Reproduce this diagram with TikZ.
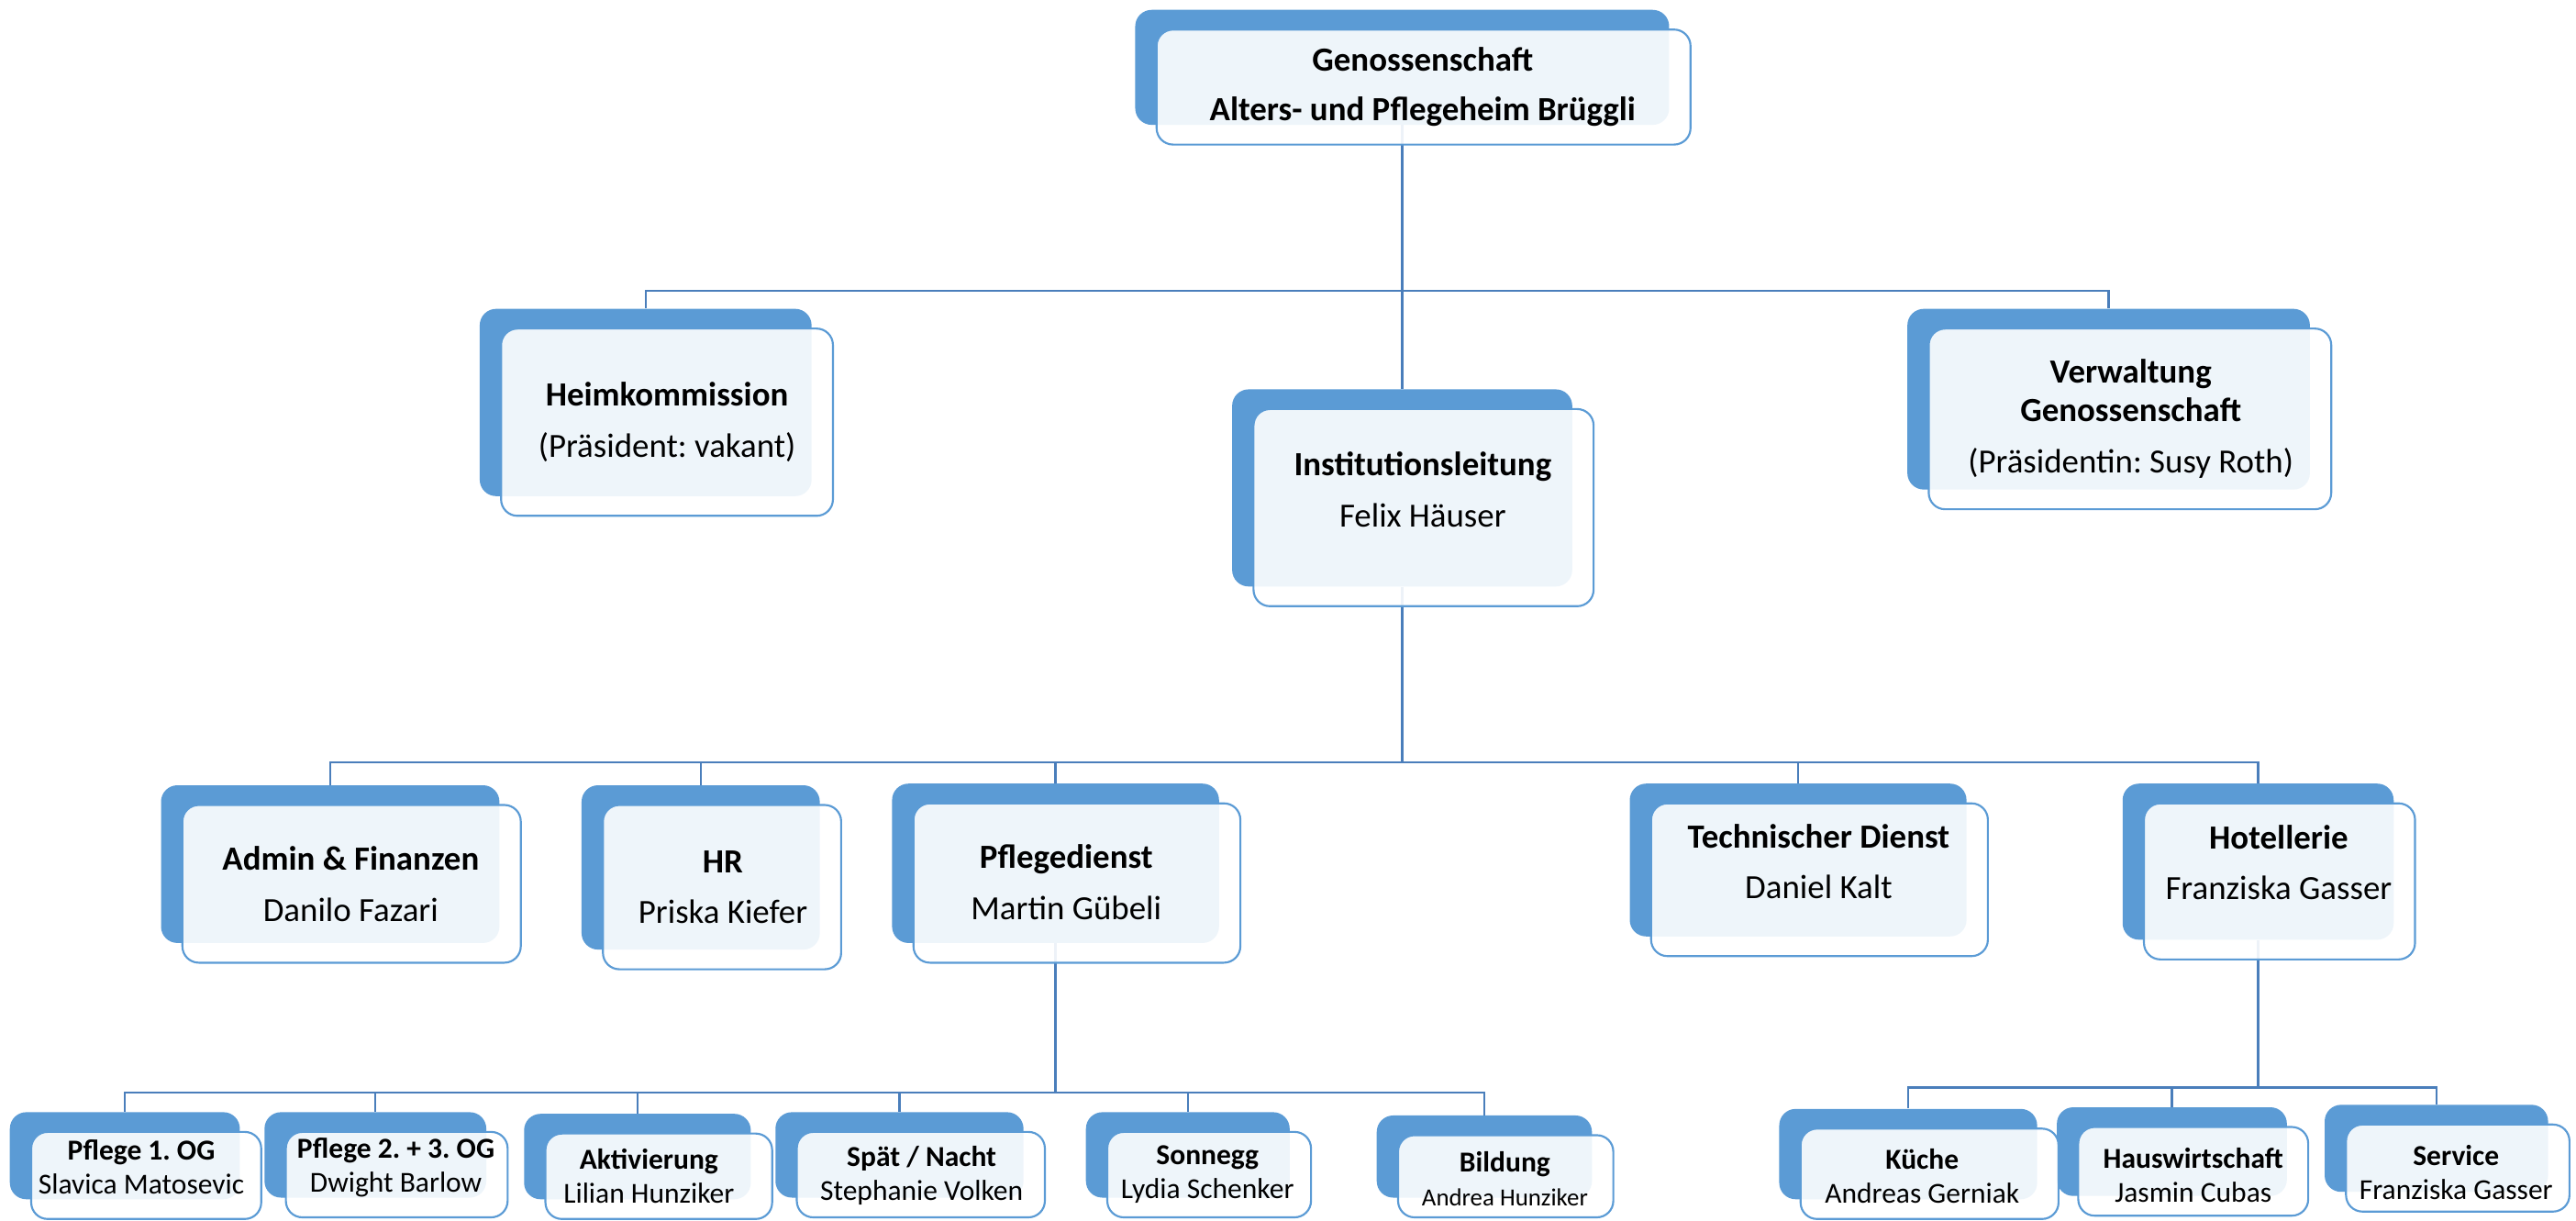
\documentclass[tikz,border=0pt]{standalone}
\usepackage{fontspec}
\setmainfont{Carlito}
\frenchspacing
\definecolor{boxblue}{RGB}{91,155,213}
\definecolor{linkblue}{RGB}{74,126,187}
% name/x/y/width/height of the blue boxes
\newcommand{\orgboxes}{gen/853.5/41/325/70, heim/393/245/202/114, verw/1283.5/243/245/110,
  inst/853.5/297/207/120, admin/201/526/206/96, hr/426.5/528/145/100, pfl/642.5/525.5/199/97,
  tech/1094.5/523.5/205/93, hot/1374.5/524.5/165/95, p1/76/703.5/140/53, p2/228.5/703/135/52,
  akt/388/704/138/52, spn/547.5/703/151/52, son/723/703/124/52, bil/903.5/704/131/50,
  kue/1161.5/702.5/157/55, hw/1322/701/140/54, ser/1483/699/136/53}

\begin{document}
\begin{tikzpicture}[x=1pt,y=-1pt,
  backbox/.style={fill=boxblue,rounded corners=10pt,inner sep=0pt},
  frontbox/.style={draw=boxblue,line width=1.2pt,fill=white,fill opacity=0.9,rounded corners=10pt,inner sep=0pt},
  link/.style={draw=linkblue,line width=1.4pt},
  txt/.style={align=center,inner sep=0pt,font=\fontsize{20.6}{23.5}\selectfont},
  smalltxt/.style={align=center,inner sep=0pt,font=\fontsize{17.6}{20.8}\selectfont}]
  \useasboundingbox (0,0) rectangle (1568,743);
  \clip (0,0) rectangle (1568,743);

  % back boxes
  \foreach \n/\x/\y/\w/\h in \orgboxes
    \node[backbox,minimum width=\w pt,minimum height=\h pt] (\n) at (\x,\y) {};

  % connectors
  \coordinate (bus1) at (853.5,177);
  \draw[link] (gen.south) -- (bus1);
  \draw[link] (bus1) -| (heim.north);
  \draw[link] (bus1) -| (verw.north);
  \draw[link] (bus1) -- (inst.north);
  \coordinate (bus2) at (853.5,464);
  \draw[link] (inst.south) -- (bus2);
  \foreach \n in {admin,hr,pfl,tech,hot}
    \draw[link] (bus2) -| (\n.north);
  \coordinate (bus3) at (642.5,665);
  \draw[link] (pfl.south) -- (bus3);
  \foreach \n in {p1,p2,akt,spn,son,bil}
    \draw[link] (bus3) -| (\n.north);
  \coordinate (bus4) at (1374.5,662);
  \draw[link] (hot.south) -- (bus4);
  \foreach \n in {kue,hw,ser}
    \draw[link] (bus4) -| (\n.north);

  % front boxes
  \foreach \n/\x/\y/\w/\h in \orgboxes
    \node[frontbox,minimum width=\w pt,minimum height=\h pt] (\n-f) at ([shift={(13,12)}]\n.center) {};

  % texts
  \node[txt] (gen-t) at (866,53) {\textbf{Genossenschaft}\\[6.5pt]\textbf{Alters- und Pflegeheim Brüggli}};
  \node[txt] (heim-t) at (406,257) {\textbf{Heimkommission}\\[7.5pt](Präsident: vakant)};
  \node[txt] (verw-t) at (1297,255) {\textbf{Verwaltung}\\\textbf{Genossenschaft}\\[7.5pt](Präsidentin: Susy Roth)};
  \node[txt] (inst-t) at (866,298) {\textbf{Institutionsleitung}\\[7.5pt]Felix Häuser};
  \node[txt] (admin-t) at (213.5,538) {\textbf{Admin \& Finanzen}\\[7.5pt]Danilo Fazari};
  \node[txt] (hr-t) at (440,540) {\textbf{HR}\\[7.5pt]Priska Kiefer};
  \node[txt] (pfl-t) at (649,537) {\textbf{Pflegedienst}\\[7.5pt]Martin Gübeli};
  \node[txt] (tech-t) at (1107,524.5) {\textbf{Technischer Dienst}\\[7.5pt]Daniel Kalt};
  \node[txt] (hot-t) at (1387,525) {\textbf{Hotellerie}\\[7.5pt]Franziska Gasser};
  \node[smalltxt] (p1-t) at (86,710.5) {\textbf{Pflege 1. OG}\\Slavica Matosevic};
  \node[smalltxt] (p2-t) at (241,710.5) {\textbf{Pflege 2. + 3. OG}\\Dwight Barlow};
  \node[smalltxt] (akt-t) at (395,716) {\textbf{Aktivierung}\\Lilian Hunziker};
  \node[smalltxt] (spn-t) at (561,715.5) {\textbf{Spät / Nacht}\\Stephanie Volken};
  \node[smalltxt] (son-t) at (735,715) {\textbf{Sonnegg}\\Lydia Schenker};
  \node[smalltxt] (bil-t) at (916,717.5) {\textbf{Bildung}\\{\fontsize{15}{18}\selectfont Andrea Hunziker}};
  \node[smalltxt] (kue-t) at (1170,716) {\textbf{Küche}\\Andreas Gerniak};
  \node[smalltxt] (hw-t) at (1335,715.5) {\textbf{Hauswirtschaft}\\Jasmin Cubas};
  \node[smalltxt] (ser-t) at (1495,713.5) {\textbf{Service}\\Franziska Gasser};
\end{tikzpicture}
\end{document}
